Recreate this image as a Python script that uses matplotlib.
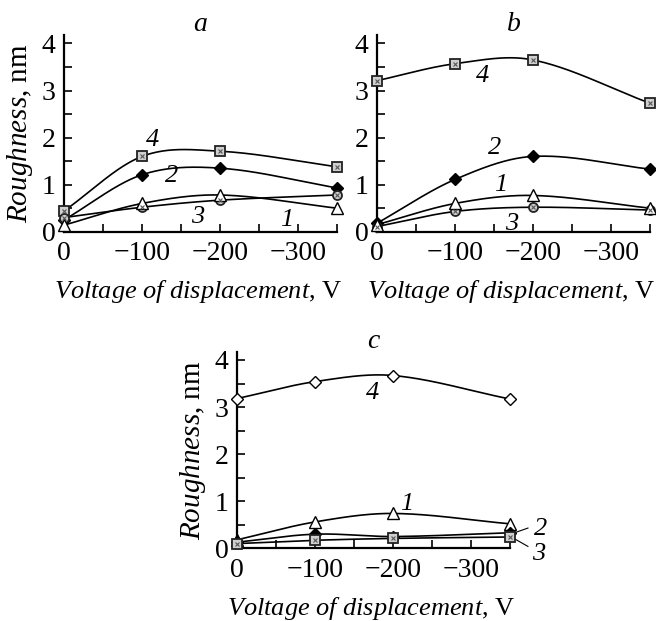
import numpy as np
import matplotlib
matplotlib.use("Agg")
import matplotlib.pyplot as plt
from matplotlib.ticker import MultipleLocator, FixedLocator

plt.rcParams['font.family'] = ['Liberation Serif', 'DejaVu Serif']
plt.rcParams['mathtext.fontset'] = 'custom'
plt.rcParams['mathtext.rm'] = 'Liberation Serif'
plt.rcParams['mathtext.it'] = 'Liberation Serif:italic'

# ---- data ----
voltage = [0, -100, -200, -350]
xtick_vals = [0, -100, -200, -300]
xtick_labels = ['0', '\u2212100', '\u2212200', '\u2212300']
ytick_vals = [0, 1, 2, 3, 4]

a_1 = [0.14, 0.60, 0.78, 0.50]
a_2 = [0.25, 1.21, 1.35, 0.93]
a_3 = [0.30, 0.52, 0.67, 0.78]
a_4 = [0.44, 1.60, 1.71, 1.38]

b_1 = [0.15, 0.60, 0.77, 0.50]
b_2 = [0.18, 1.11, 1.60, 1.33]
b_3 = [0.11, 0.43, 0.52, 0.46]
b_4 = [3.21, 3.57, 3.65, 2.73]

c_1 = [0.18, 0.56, 0.74, 0.52]
c_2 = [0.13, 0.30, 0.25, 0.33]
c_3 = [0.10, 0.17, 0.21, 0.24]
c_4 = [3.18, 3.54, 3.67, 3.17]

panel_titles = ['a', 'b', 'c']
ylabel_text = r'$\mathit{Roughness}$, nm'
xlabel_text = r'$\mathit{Voltage\ of\ displacement}$, V'


def smooth(x, y, n=80):
    x = np.asarray(x, float)
    y = np.asarray(y, float)
    m = np.empty_like(y)
    m[0] = (y[1] - y[0]) / (x[1] - x[0])
    m[-1] = (y[-1] - y[-2]) / (x[-1] - x[-2])
    m[1:-1] = (y[2:] - y[:-2]) / (x[2:] - x[:-2])
    xs, ys = [], []
    for i in range(len(x) - 1):
        h = x[i + 1] - x[i]
        t = np.linspace(0, 1, n)
        h00 = 2 * t**3 - 3 * t**2 + 1
        h10 = t**3 - 2 * t**2 + t
        h01 = -2 * t**3 + 3 * t**2
        h11 = t**3 - t**2
        xs.append(x[i] + t * h)
        ys.append(h00 * y[i] + h10 * h * m[i] + h01 * y[i + 1] + h11 * h * m[i + 1])
    return np.concatenate(xs), np.concatenate(ys)


HATCH = '#cfcfcf'
styles = {
    'tri_open': dict(marker='^', mfc='white', mec='black', ms=8, mew=1.0),
    'dia_fill': dict(marker='D', mfc='black', mec='black', ms=6.5, mew=1.0),
    'circ_hatch': dict(marker='o', mfc=HATCH, mec='#222222', ms=6.5, mew=1.3),
    'sq_hatch': dict(marker='s', mfc=HATCH, mec='#222222', ms=6.5, mew=1.3),
    'dia_open': dict(marker='D', mfc='white', mec='black', ms=6.5, mew=1.0),
}
hatched = {'circ_hatch', 'sq_hatch'}

W, H = 656, 621
fig = plt.figure(figsize=(W / 100, H / 100), dpi=100)


def make_axes(left_px, bottom_px, top_px, right_px):
    return fig.add_axes([left_px / W, (H - bottom_px) / H,
                         (right_px - left_px) / W, (bottom_px - top_px) / H])


ax_a = make_axes(64, 231.7, 35, 337)
ax_b = make_axes(377, 231.7, 35, 650)
ax_c = make_axes(237, 548.3, 351.5, 510)

panels = [
    (ax_a, [(a_4, 'sq_hatch'), (a_2, 'dia_fill'), (a_3, 'circ_hatch'), (a_1, 'tri_open')],
     [('4', -113, 1.95), ('2', -138, 1.18), ('3', -171, 0.32), ('1', -286, 0.25)], True),
    (ax_b, [(b_4, 'sq_hatch'), (b_2, 'dia_fill'), (b_3, 'circ_hatch'), (b_1, 'tri_open')],
     [('4', -135, 3.30), ('2', -151, 1.77), ('1', -158, 0.99), ('3', -173, 0.17)], False),
    (ax_c, [(c_4, 'dia_open'), (c_1, 'tri_open'), (c_2, 'dia_fill'), (c_3, 'sq_hatch')],
     [('4', -174, 3.30), ('1', -217, 0.95), ('2', -389, 0.40), ('3', -387, -0.13)], True),
]

for (ax, series, labels, show_ylabel), title in zip(panels, panel_titles):
    for vals, st in series:
        sx, sy = smooth(voltage, vals)
        ax.plot(sx, sy, color='black', lw=1.2, clip_on=False, zorder=2)
        ax.plot(voltage, vals, ls='none', clip_on=False, zorder=3, **styles[st])
        if st in hatched:
            ax.plot(voltage, vals, ls='none', marker='x', ms=3.2, mew=0.8,
                    color='#555555', clip_on=False, zorder=4)
    for txt, lx, ly in labels:
        ax.text(lx, ly, txt, fontsize=19, fontstyle='italic', ha='center', va='center',
                clip_on=False)
    ax.set_xlim(0, -350)
    ax.set_ylim(0, 4.18)
    for s in ['top', 'right']:
        ax.spines[s].set_visible(False)
    for s in ['left', 'bottom']:
        ax.spines[s].set_linewidth(1.6)
    ax.xaxis.set_major_locator(FixedLocator(xtick_vals))
    ax.set_xticklabels(xtick_labels)
    ax.xaxis.set_minor_locator(FixedLocator([-50, -150, -250, -350]))
    ax.yaxis.set_major_locator(FixedLocator(ytick_vals))
    ax.yaxis.set_minor_locator(MultipleLocator(0.5))
    ax.tick_params(which='both', direction='in', width=1.2, labelsize=20)
    ax.tick_params(which='major', length=6)
    ax.tick_params(which='minor', length=6)
    ax.tick_params(axis='x', pad=7)
    ax.tick_params(axis='y', pad=6)
    ax.text(0.5, 1.02, title, transform=ax.transAxes, fontsize=20,
            fontstyle='italic', ha='center', va='baseline')
    ax.set_xlabel(xlabel_text, fontsize=19)
    ax.xaxis.label.set_va('center')
    ax.xaxis.set_label_coords(0.49, -0.305)
    if show_ylabel:
        ax.set_ylabel(ylabel_text, fontsize=21)
        ax.yaxis.label.set_va('center')
        ax.yaxis.set_label_coords(-0.162, 0.5)
    ax.patch.set_alpha(0)

# leader lines in panel c
ax_c.plot([-356, -373], [0.33, 0.43], color='black', lw=0.8, clip_on=False)
ax_c.plot([-356, -373], [0.20, 0.04], color='black', lw=0.8, clip_on=False)

fig.savefig('out.png', dpi=100)
